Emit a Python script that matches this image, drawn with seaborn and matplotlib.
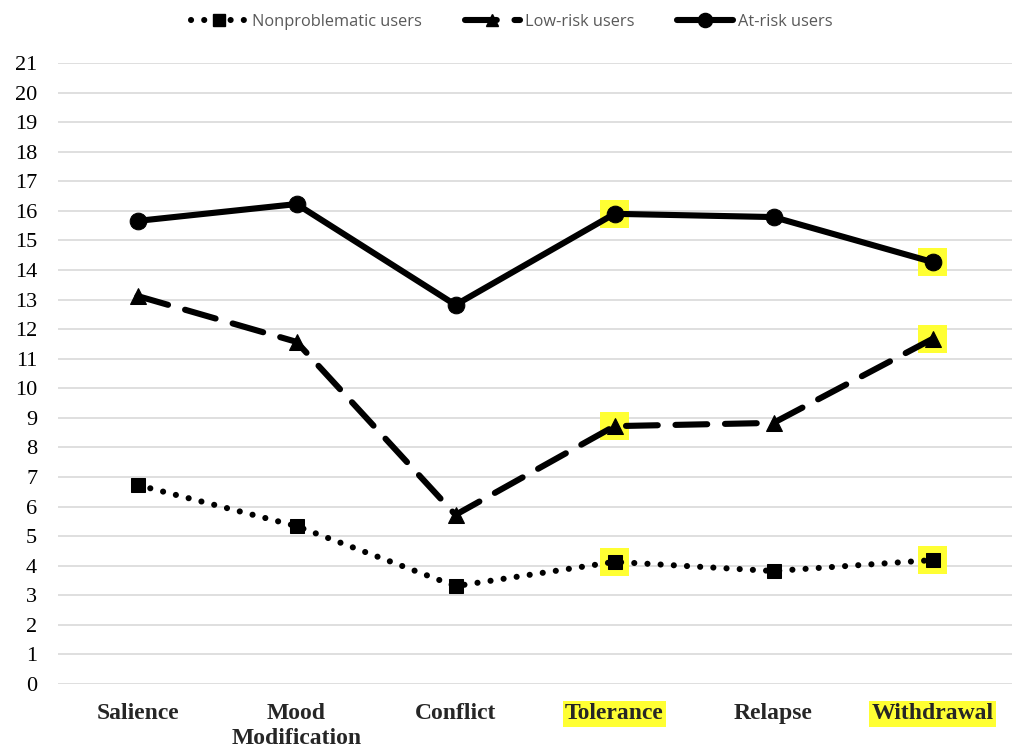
import pandas as pd
import matplotlib
matplotlib.use("Agg")
import matplotlib.pyplot as plt
from matplotlib.lines import Line2D
import seaborn as sns

categories = ["Salience", "Mood\nModification", "Conflict", "Tolerance", "Relapse", "Withdrawal"]
nonproblematic = [6.73, 5.34, 3.31, 4.13, 3.82, 4.19]
low_risk = [13.12, 11.57, 5.72, 8.72, 8.83, 11.67]
at_risk = [15.66, 16.23, 12.82, 15.90, 15.79, 14.27]
highlighted = ["Tolerance", "Withdrawal"]
y_ticks = list(range(0, 22))

sns.set_theme(style="whitegrid")
plt.rcParams["font.family"] = ["Liberation Serif", "DejaVu Serif"]

fig = plt.figure(figsize=(10.24, 7.54), dpi=100)
ax = fig.add_axes([58 / 1024, 1 - 684 / 754, (1012 - 58) / 1024, (684 - 63) / 754])

series = [
    ("Nonproblematic users", nonproblematic, "s", (0, (0.01, 2.15)), 10),
    ("Low-risk users", low_risk, "^", (0, (5.2, 2.9)), 11),
    ("At-risk users", at_risk, "o", "-", 12),
]

hl_idx = [categories.index(c) for c in highlighted]
for name, vals, mk, ls, ms in series:
    df = pd.DataFrame({"x": range(len(categories)), "y": vals})
    sub = df.iloc[hl_idx]
    ax.scatter(sub["x"], sub["y"], marker="s", s=420, color="#ffff33",
               edgecolors="none", zorder=2)
    sns.lineplot(data=df, x="x", y="y", ax=ax, color="black", linewidth=4.4,
                 linestyle=ls, marker=mk, markersize=ms, markeredgecolor="black",
                 dash_capstyle="round", zorder=3)

ax.set_xlim(-0.5, len(categories) - 0.5)
ax.set_ylim(0, 21)
ax.set_yticks(y_ticks)
ax.set_xticks(range(len(categories)))
ax.set_xticklabels(categories, fontsize=17, fontweight="bold", linespacing=1.2)
ax.tick_params(axis="x", pad=14, length=0)
ax.tick_params(axis="y", labelsize=16, pad=15, length=0, colors="black")
for lbl in ax.get_xticklabels():
    lbl.set_verticalalignment("top")
    if lbl.get_text() in highlighted:
        lbl.set_bbox(dict(facecolor="#ffff33", edgecolor="none", pad=1.5))
ax.set_xlabel("")
ax.set_ylabel("")
ax.grid(axis="x", visible=False)
ax.grid(axis="y", color="#d9d9d9", linewidth=1.2)
for sp in ax.spines.values():
    sp.set_visible(False)

handles = [
    Line2D([], [], color="black", linewidth=4.4, linestyle=ls, marker=mk,
           markersize=ms * 0.85, dash_capstyle="round")
    for name, vals, mk, ls, ms in series
]
leg = fig.legend(handles, [s[0] for s in series], loc="center", ncol=3,
                 bbox_to_anchor=(0.5, 1 - 22 / 754), frameon=False,
                 prop={"family": "Open Sans", "size": 11.8}, handlelength=3.4,
                 columnspacing=2.6, handletextpad=0.3)
for t in leg.get_texts():
    t.set_color("#595959")

fig.savefig("out.png", dpi=100)
